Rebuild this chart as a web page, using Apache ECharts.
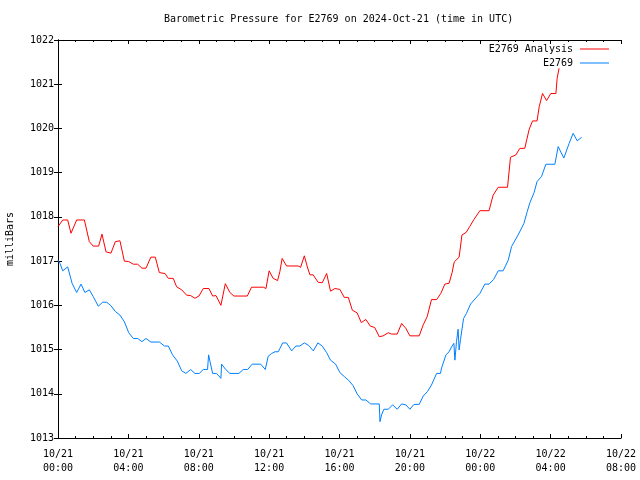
<!DOCTYPE html>
<html>
<head>
<meta charset="utf-8">
<script src="https://cdn.jsdelivr.net/npm/echarts@6/dist/echarts.min.js"></script>
<style>html,body{margin:0;padding:0;background:#fff}#c{width:640px;height:480px}</style>
</head>
<body>
<div id="c"></div>
<script>
const titleText = 'Barometric Pressure for E2769 on 2024-Oct-21 (time in UTC)';
const yAxisName = 'milliBars';
const seriesNames = ['E2769 Analysis', 'E2769'];
const xTickLabels = ['10/21\n00:00','10/21\n04:00','10/21\n08:00','10/21\n12:00','10/21\n16:00','10/21\n20:00','10/22\n00:00','10/22\n04:00','10/22\n08:00'];
// hours since 2024-10-21 00:00 UTC, pressure in mbar
const analysisData = [[0,1017.78],[0.27,1017.93],[0.55,1017.93],[0.74,1017.63],[1.06,1017.93],[1.5,1017.93],[1.78,1017.44],[2.0,1017.34],[2.31,1017.34],[2.5,1017.61],[2.73,1017.21],[3.01,1017.18],[3.26,1017.44],[3.52,1017.46],[3.77,1017.0],[4.02,1016.99],[4.28,1016.93],[4.53,1016.93],[4.77,1016.84],[5.0,1016.84],[5.28,1017.09],[5.53,1017.09],[5.76,1016.74],[6.08,1016.72],[6.27,1016.61],[6.55,1016.61],[6.74,1016.42],[7.03,1016.35],[7.31,1016.23],[7.54,1016.22],[7.78,1016.16],[8.01,1016.21],[8.26,1016.38],[8.58,1016.38],[8.79,1016.21],[8.98,1016.22],[9.26,1016.0],[9.51,1016.49],[9.77,1016.29],[10.0,1016.21],[10.76,1016.21],[11.0,1016.41],[11.67,1016.41],[11.82,1016.38],[12.0,1016.78],[12.23,1016.61],[12.48,1016.56],[12.61,1016.76],[12.74,1017.06],[12.99,1016.89],[13.65,1016.89],[13.79,1016.86],[14.0,1017.12],[14.17,1016.87],[14.32,1016.69],[14.5,1016.69],[14.79,1016.52],[15.02,1016.51],[15.27,1016.72],[15.49,1016.32],[15.74,1016.38],[16.02,1016.36],[16.27,1016.18],[16.5,1016.18],[16.73,1015.89],[17.0,1015.83],[17.24,1015.61],[17.5,1015.68],[17.75,1015.53],[18.0,1015.5],[18.26,1015.29],[18.48,1015.31],[18.77,1015.38],[18.96,1015.35],[19.28,1015.35],[19.53,1015.59],[19.77,1015.48],[20.0,1015.31],[20.53,1015.31],[20.76,1015.56],[20.98,1015.74],[21.23,1016.13],[21.52,1016.13],[21.76,1016.27],[21.99,1016.48],[22.23,1016.5],[22.4,1016.74],[22.52,1016.98],[22.8,1017.09],[22.96,1017.59],[23.2,1017.65],[23.4,1017.78],[23.64,1017.94],[23.98,1018.14],[24.5,1018.14],[24.73,1018.49],[25.02,1018.67],[25.55,1018.67],[25.72,1019.35],[26.02,1019.40],[26.25,1019.55],[26.53,1019.55],[26.78,1019.98],[26.97,1020.17],[27.23,1020.17],[27.35,1020.49],[27.54,1020.79],[27.77,1020.63],[28.01,1020.79],[28.3,1020.79],[28.37,1021.13],[28.48,1021.36]];
const stationData = [[0,1017.02],[0.11,1016.95],[0.27,1016.78],[0.55,1016.87],[0.8,1016.5],[1.06,1016.29],[1.31,1016.48],[1.53,1016.29],[1.78,1016.35],[2.0,1016.2],[2.29,1015.98],[2.54,1016.07],[2.77,1016.07],[3.01,1015.99],[3.26,1015.86],[3.52,1015.78],[3.77,1015.63],[4.02,1015.38],[4.28,1015.25],[4.53,1015.25],[4.77,1015.18],[5.0,1015.25],[5.28,1015.17],[5.76,1015.17],[6.05,1015.08],[6.27,1015.08],[6.51,1014.88],[6.78,1014.74],[7.03,1014.52],[7.27,1014.46],[7.54,1014.55],[7.78,1014.46],[8.03,1014.46],[8.26,1014.55],[8.5,1014.55],[8.56,1014.88],[8.64,1014.73],[8.79,1014.46],[9.01,1014.46],[9.26,1014.35],[9.3,1014.67],[9.53,1014.55],[9.77,1014.46],[10.28,1014.46],[10.53,1014.55],[10.78,1014.55],[11.04,1014.67],[11.52,1014.67],[11.78,1014.55],[11.95,1014.85],[12.14,1014.91],[12.33,1014.95],[12.52,1014.95],[12.77,1015.15],[12.99,1015.15],[13.28,1014.97],[13.52,1015.08],[13.75,1015.08],[14.0,1015.15],[14.26,1015.09],[14.51,1014.97],[14.77,1015.15],[15.02,1015.08],[15.27,1014.93],[15.49,1014.76],[15.78,1014.67],[16.02,1014.48],[16.27,1014.39],[16.53,1014.3],[16.78,1014.18],[17.0,1014.0],[17.26,1013.86],[17.5,1013.86],[17.77,1013.77],[18.26,1013.77],[18.3,1013.37],[18.39,1013.52],[18.52,1013.65],[18.77,1013.65],[19.02,1013.75],[19.28,1013.65],[19.53,1013.77],[19.77,1013.75],[20.0,1013.65],[20.23,1013.76],[20.53,1013.76],[20.76,1013.95],[21.0,1014.05],[21.23,1014.2],[21.52,1014.46],[21.74,1014.46],[21.8,1014.58],[22.05,1014.88],[22.23,1014.95],[22.37,1015.06],[22.5,1015.14],[22.56,1014.76],[22.65,1015.18],[22.74,1015.46],[22.8,1014.99],[22.88,1015.23],[23.05,1015.7],[23.22,1015.82],[23.45,1016.03],[23.98,1016.27],[24.26,1016.48],[24.5,1016.48],[24.77,1016.59],[25.02,1016.78],[25.3,1016.78],[25.59,1017.02],[25.78,1017.33],[26.15,1017.59],[26.48,1017.85],[26.67,1018.12],[26.82,1018.32],[27.06,1018.55],[27.23,1018.8],[27.48,1018.91],[27.73,1019.19],[28.24,1019.19],[28.43,1019.59],[28.75,1019.33],[29.05,1019.66],[29.28,1019.89],[29.51,1019.72],[29.76,1019.80]];
const colors = ['#ff0000', '#0080ff'];
const FONT = 'DejaVu Sans Mono';
const FS = 10;

const chart = echarts.init(document.getElementById('c'), null, {renderer: 'canvas'});
const axisCommon = {
  axisLine: {show: true, lineStyle: {color: '#000', width: 1}},
  axisTick: {show: true, inside: true, length: 4, lineStyle: {color: '#000'}},
  splitLine: {show: false}
};
chart.setOption({
  animation: false,
  backgroundColor: '#fff',
  title: {text: titleText, left: 164, top: 14, padding: 0,
    textStyle: {fontFamily: FONT, fontSize: FS, fontWeight: 'normal', color: '#000'}},
  grid: {left: 58, right: 19, top: 40, bottom: 42, containLabel: false, outerBoundsMode: 'none'},
  legend: [
    {data: [seriesNames[0]], right: 31, top: 44, orient: 'vertical', align: 'right',
      itemWidth: 29, itemHeight: 1, itemGap: 4, icon: 'rect', padding: 0,
      textStyle: {fontFamily: FONT, fontSize: FS, color: '#000', padding: [0, 2, 0, 0]}},
    {data: [seriesNames[1]], right: 31, top: 58, orient: 'vertical', align: 'right',
      itemWidth: 29, itemHeight: 1, itemGap: 4, icon: 'rect', padding: 0,
      textStyle: {fontFamily: FONT, fontSize: FS, color: '#000', padding: [0, 2, 0, 0]}}
  ],
  xAxis: [
    Object.assign({}, axisCommon, {type: 'value', min: 0, max: 32, interval: 4, position: 'bottom',
      minorTick: {show: true, splitNumber: 4, length: 2, lineStyle: {color: '#000'}},
      axisLabel: {fontFamily: FONT, fontSize: FS, color: '#000', margin: 9, lineHeight: 14,
        formatter: v => xTickLabels[Math.round(v / 4)] || ''}}),
    Object.assign({}, axisCommon, {type: 'value', min: 0, max: 32, interval: 4, position: 'top',
      minorTick: {show: true, splitNumber: 4, length: 2, lineStyle: {color: '#000'}},
      axisLabel: {show: false}})
  ],
  yAxis: [
    Object.assign({}, axisCommon, {type: 'value', min: 1013, max: 1022, interval: 1, position: 'left',
      name: yAxisName, nameLocation: 'middle', nameGap: 43, nameRotate: 90,
      nameTextStyle: {fontFamily: FONT, fontSize: FS, color: '#000'},
      axisLabel: {fontFamily: FONT, fontSize: FS, color: '#000', margin: 4, formatter: v => String(v)}}),
    Object.assign({}, axisCommon, {type: 'value', min: 1013, max: 1022, interval: 1, position: 'right',
      axisLabel: {show: false}})
  ],
  series: [
    {name: seriesNames[0], type: 'line', data: analysisData, showSymbol: false, symbol: 'none',
      color: colors[0], lineStyle: {width: 1, color: colors[0]}, xAxisIndex: 0, yAxisIndex: 0},
    {name: seriesNames[1], type: 'line', data: stationData, showSymbol: false, symbol: 'none',
      color: colors[1], lineStyle: {width: 1, color: colors[1]}, xAxisIndex: 0, yAxisIndex: 0}
  ]
});
</script>
</body>
</html>
